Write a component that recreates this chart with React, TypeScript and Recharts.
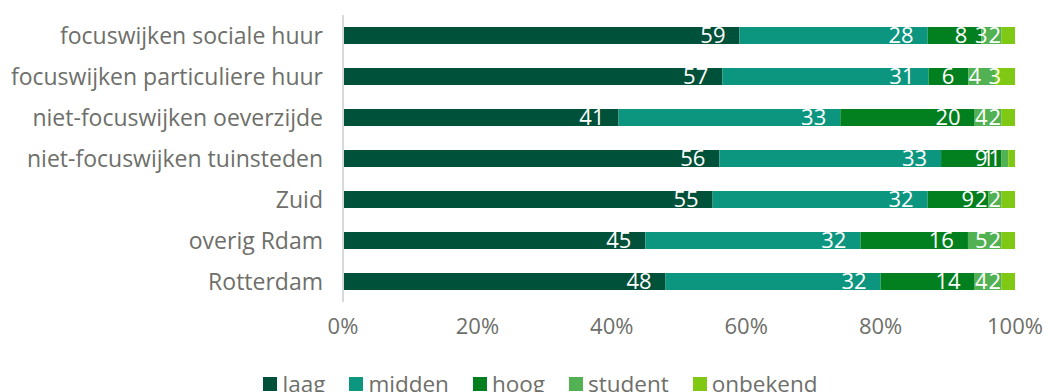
import { BarChart, Bar, XAxis, YAxis, Legend, LabelList } from 'recharts';

const categories = [
    'focuswijken sociale huur',
    'focuswijken particuliere huur',
    'niet-focuswijken oeverzijde',
    'niet-focuswijken tuinsteden',
    'Zuid',
    'overig Rdam',
    'Rotterdam',
];

const laag = [59, 57, 41, 56, 55, 45, 48];
const midden = [28, 31, 33, 33, 32, 32, 32];
const hoog = [8, 6, 20, 9, 9, 16, 14];
const student = [3, 4, 4, 1, 2, 5, 4];
const onbekend = [2, 3, 2, 1, 2, 2, 2];

const xTicks = [0, 0.2, 0.4, 0.6, 0.8, 1];

const series = [
    { key: 'laag', color: '#00513a' },
    { key: 'midden', color: '#0c9680' },
    { key: 'hoog', color: '#02801f' },
    { key: 'student', color: '#52b152' },
    { key: 'onbekend', color: '#7fc813' },
];

const data = categories.map((name, i) => ({
    name,
    laag: laag[i],
    midden: midden[i],
    hoog: hoog[i],
    student: student[i],
    onbekend: onbekend[i],
}));

const FONT = '"Open Sans", sans-serif';
const GREY = '#6e6f6a';

function LegendContent() {
    return (
        <div style={{ display: 'flex', justifyContent: 'center', fontFamily: FONT, fontSize: 22.5, color: GREY, paddingLeft: 90 }}>
            {series.map((s) => (
                <div key={s.key} style={{ display: 'flex', alignItems: 'center', marginRight: 24 }}>
                    <span style={{ width: 14, height: 14, background: s.color, display: 'inline-block', marginRight: 5 }} />
                    <span style={{ lineHeight: '26px' }}>{s.key}</span>
                </div>
            ))}
        </div>
    );
}

export default function App() {
    return (
        <div style={{ position: 'fixed', left: 0, top: 0, width: 1046, height: 392, background: '#fff', overflow: 'hidden' }}>
            <BarChart
                width={1046}
                height={392}
                data={data}
                layout="vertical"
                stackOffset="expand"
                barSize={17}
                margin={{ top: 15, right: 31, left: 0, bottom: 14 }}
            >
                <XAxis
                    type="number"
                    domain={[0, 1]}
                    ticks={xTicks}
                    tickFormatter={(v: number) => `${Math.round(v * 100)}%`}
                    axisLine={false}
                    tickLine={false}
                    tickSize={0}
                    tickMargin={16}
                    height={50}
                    tick={{ fill: GREY, fontSize: 22, fontFamily: FONT }}
                />
                <YAxis
                    type="category"
                    dataKey="name"
                    width={343}
                    axisLine={{ stroke: '#d9d9d9', strokeWidth: 2 }}
                    tickLine={false}
                    tickSize={0}
                    tickMargin={20}
                    tick={{ fill: GREY, fontSize: 23, fontFamily: FONT }}
                />
                <Legend verticalAlign="bottom" content={<LegendContent />} wrapperStyle={{ bottom: -5 }} />
                {series.map((s) => (
                    <Bar key={s.key} dataKey={s.key} stackId="a" fill={s.color} isAnimationActive={false}>
                        <LabelList
                            dataKey={s.key}
                            position="insideRight"
                            offset={14}
                            fill="#ffffff"
                            style={{ fontSize: 22, fontFamily: FONT }}
                        />
                    </Bar>
                ))}
            </BarChart>
        </div>
    );
}
